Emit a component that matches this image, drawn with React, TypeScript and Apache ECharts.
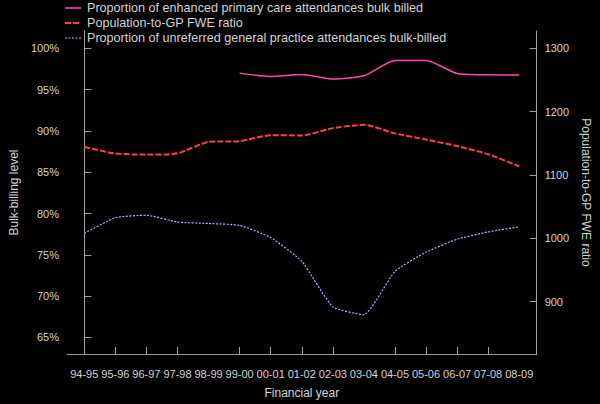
import React, { useEffect, useRef } from "react";
import * as echarts from "echarts";

const categories = ["94-95", "95-96", "96-97", "97-98", "98-99", "99-00", "00-01", "01-02", "02-03", "03-04", "04-05", "05-06", "06-07", "07-08", "08-09"];
// Proportion of enhanced primary care attendances bulk billed (from 99-00)
const enhancedStart = 5;
const enhancedValues = [97.0, 96.6, 96.84, 96.28, 96.68, 98.53, 98.53, 96.96, 96.8, 96.78];
// Population-to-GP FWE ratio
const ratioValues = [1144, 1133.7, 1132, 1134, 1152.2, 1153.3, 1162.5, 1162.3, 1173.8, 1179, 1165.5, 1155.8, 1145.6, 1132.6, 1113.6];
// Proportion of unreferred general practice attendances bulk-billed
const unreferredValues = [77.6, 79.5, 79.8, 78.97, 78.8, 78.57, 77.1, 74.23, 68.7, 67.76, 73.0, 75.33, 76.9, 77.78, 78.4];

const leftTicks = [65, 70, 75, 80, 85, 90, 95, 100];
const rightTicks = [900, 1000, 1100, 1200, 1300];
const xTickIndices = [0, 1, 2, 3, 5, 6, 7, 8, 10, 11, 12, 13];

const seriesNames = [
  "Proportion of enhanced primary care attendances bulk billed",
  "Population-to-GP FWE ratio",
  "Proportion of unreferred general practice attendances bulk-billed",
];
const seriesColors = ["#ff4aa8", "#ff3d50", "#aab4ff"];
const seriesDash: any[] = [null, [6, 2], [2, 1.5]];
const seriesWidths = [1.5, 2, 1.2];

const FONT = "'Liberation Sans', Arial, sans-serif";
const TEXT = "#d4d4d4";
const AXIS = "#a0a0a0";

export default function App() {
  const ref = useRef<HTMLDivElement>(null);
  useEffect(() => {
    document.body.style.margin = "0";
    document.body.style.background = "#000";
    const chart = echarts.init(ref.current!, null, { renderer: "svg" });
    const allIdx = categories.map((_, i) => i);
    const legendGraphics: any[] = [];
    seriesNames.forEach((name, i) => {
      const y = 8 + 15 * i;
      legendGraphics.push({
        type: "line",
        shape: { x1: 65, y1: y, x2: 81, y2: y },
        style: {
          stroke: seriesColors[i],
          lineWidth: seriesWidths[i],
          lineDash: seriesDash[i] || undefined,
        },
      });
      legendGraphics.push({
        type: "text",
        x: 87,
        y,
        style: {
          text: name,
          fill: TEXT,
          font: `12.6px ${FONT}`,
          textVerticalAlign: "middle",
          verticalAlign: "middle",
        },
      });
    });
    const lineSeries = (idx: number, yAxisIndex: number, data: any[], smooth: number) => ({
      name: seriesNames[idx],
      type: "line",
      yAxisIndex,
      symbol: "none",
      smooth,
      lineStyle: {
        color: seriesColors[idx],
        width: seriesWidths[idx],
        type: seriesDash[idx] || "solid",
      },
      itemStyle: { color: seriesColors[idx] },
      data,
    });
    const option: any = {
      animation: false,
      backgroundColor: "#000",
      textStyle: { fontFamily: FONT },
      graphic: legendGraphics,
      grid: { left: 47.5, right: 56.5, top: 31, bottom: 43 },
      xAxis: {
        type: "value",
        min: -0.555,
        max: 14.56,
        name: "Financial year",
        nameLocation: "middle",
        nameGap: 33,
        nameTextStyle: { color: TEXT, fontSize: 12, fontFamily: FONT },
        axisLine: { show: true, lineStyle: { color: AXIS, width: 1 } },
        axisTick: { show: true, inside: true, length: 7, lineStyle: { color: AXIS }, customValues: xTickIndices },
        axisLabel: {
          color: TEXT,
          fontSize: 11,
          fontFamily: FONT,
          margin: 14,
          customValues: allIdx,
          formatter: (v: number) => categories[Math.round(v)] ?? "",
        },
        splitLine: { show: false },
      },
      yAxis: [
        {
          type: "value",
          position: "left",
          min: 63,
          max: 102.1,
          name: "Bulk-billing level",
          nameLocation: "middle",
          nameGap: 32,
          nameTextStyle: { color: TEXT, fontSize: 12, fontFamily: FONT },
          axisLine: { show: true, lineStyle: { color: AXIS, width: 1 } },
          axisTick: { show: true, inside: true, length: 7, lineStyle: { color: AXIS }, customValues: leftTicks },
          axisLabel: {
            color: TEXT,
            fontSize: 11,
            fontFamily: FONT,
            margin: 8,
            customValues: leftTicks,
            formatter: (v: number) => v + "%",
          },
          splitLine: { show: false },
        },
        {
          type: "value",
          position: "right",
          min: 817.5,
          max: 1327,
          name: "Population-to-GP FWE ratio",
          nameLocation: "middle",
          nameGap: 40,
          nameRotate: -90,
          nameTextStyle: { color: TEXT, fontSize: 12, fontFamily: FONT },
          axisLine: { show: true, lineStyle: { color: AXIS, width: 1 } },
          axisTick: { show: true, inside: true, length: 7, lineStyle: { color: AXIS }, customValues: rightTicks },
          axisLabel: {
            color: TEXT,
            fontSize: 11,
            fontFamily: FONT,
            margin: 8,
            customValues: rightTicks,
            formatter: (v: number) => String(v),
          },
          splitLine: { show: false },
        },
      ],
      series: [
        lineSeries(0, 0, enhancedValues.map((v, i) => [i + enhancedStart, v]), 0.2),
        lineSeries(1, 1, ratioValues.map((v, i) => [i, v]), 0.2),
        lineSeries(2, 0, unreferredValues.map((v, i) => [i, v]), 0.15),
      ],
    };
    chart.setOption(option);
    return () => chart.dispose();
  }, []);
  return <div ref={ref} style={{ width: 600, height: 404, background: "#000" }} />;
}
